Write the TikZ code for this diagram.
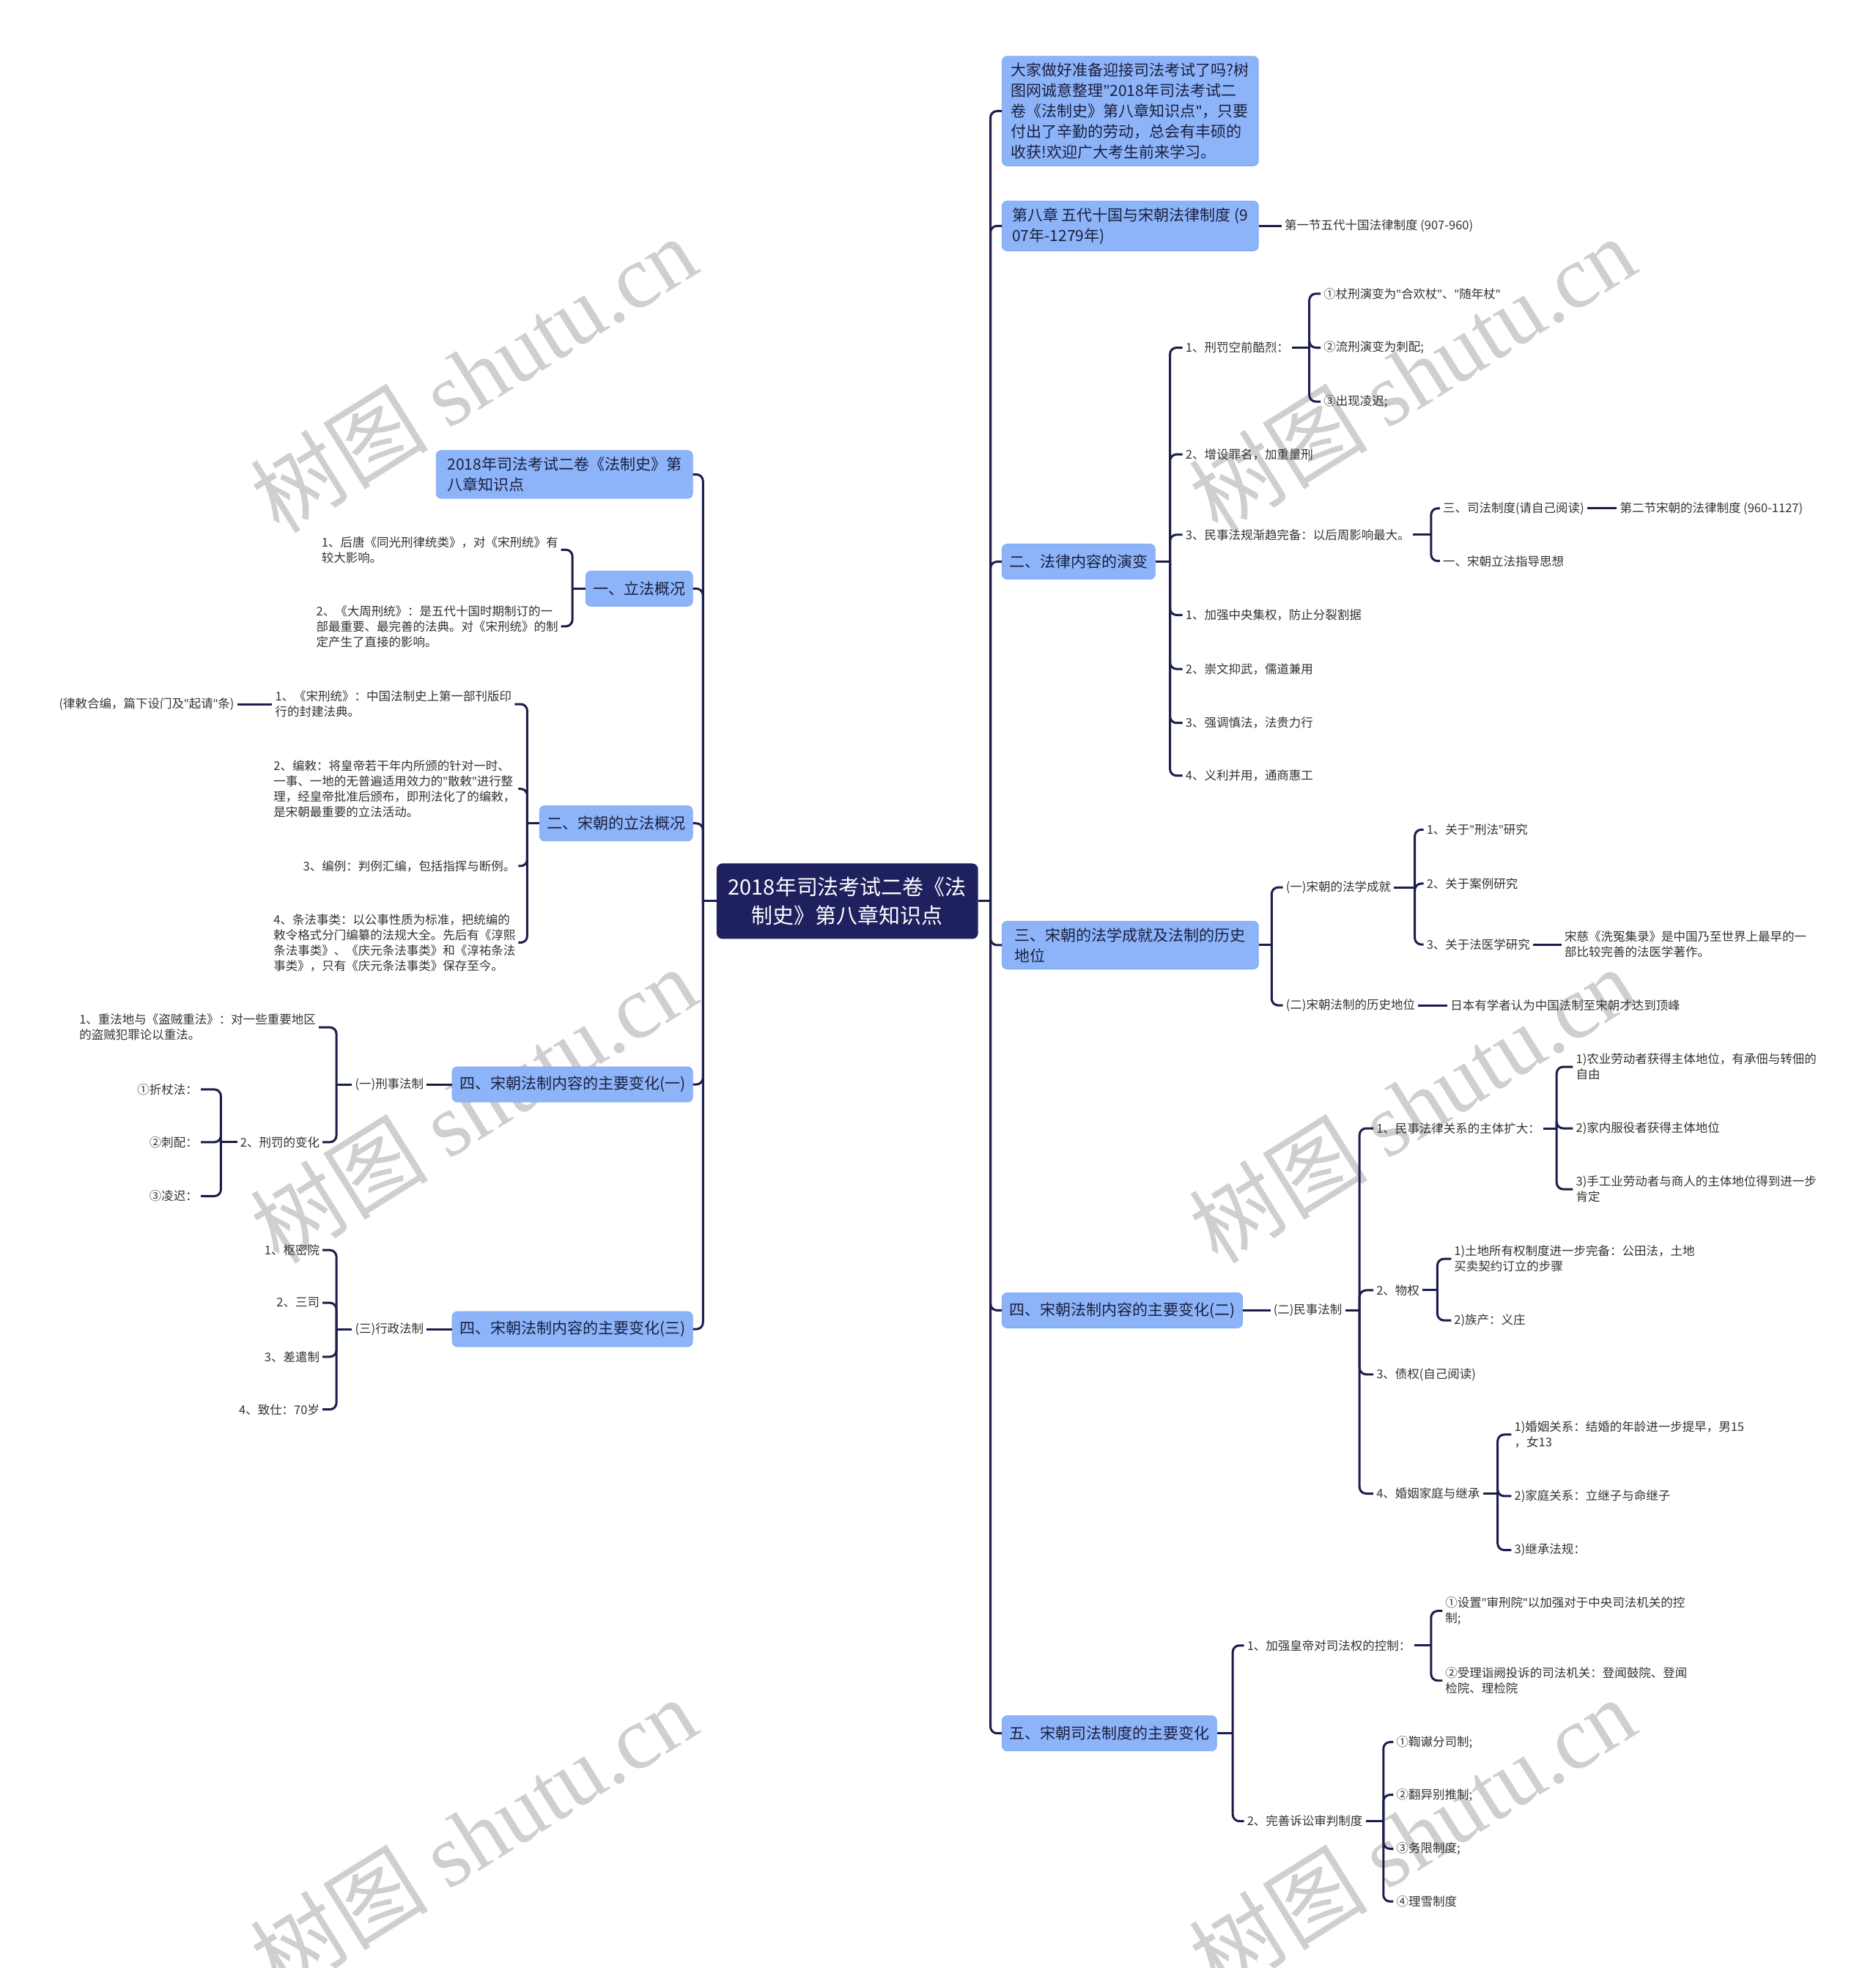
\documentclass[tikz,border=0pt]{standalone}
\usepackage{fontspec}
\setmainfont{Noto Sans CJK SC}
\newfontfamily\wmlat{Liberation Serif}
\newfontfamily\latq{Noto Sans}
\newcommand{\qq}{{\latq\symbol{34}}}
\definecolor{boxblue}{HTML}{8DB4F8}
\definecolor{boxedge}{HTML}{7FA8F0}
\definecolor{boxtext}{HTML}{1A1F40}
\definecolor{leaftext}{HTML}{333333}
\definecolor{linecol}{HTML}{1B1E4B}
\definecolor{rootblue}{HTML}{1F205E}
\tikzset{
  box/.style={fill=boxblue, draw=boxedge, line width=0.8pt, rounded corners=7pt, text=boxtext,
    font=\fontsize{21}{28}\selectfont, inner xsep=10pt, inner ysep=9pt, minimum height=48pt, align=left},
  widebox/.style={box, minimum width=350pt},
  leaf/.style={text=leaftext, font=\fontsize{16.5}{21}\selectfont, inner xsep=4pt, inner ysep=2pt, align=left},
  conn/.style={draw=linecol, line width=3pt, rounded corners=9pt},
  root/.style={fill=rootblue, rounded corners=8pt, text=white, font=\fontsize{29}{39}\selectfont,
    align=center, minimum width=357pt, minimum height=103pt, inner sep=8pt},
  wm/.style={text=black!19, font=\fontsize{122}{122}\selectfont, rotate=32, inner sep=0pt}
}
\begin{document}
\begin{tikzpicture}[x=1.7135pt,y=-1.7135pt]
\useasboundingbox[fill=white] (0,0) rectangle (1494,1568);
% watermarks
\node[wm] (w1) at (377,298) {树图 {\wmlat shutu.cn}};
\node[wm] (w2) at (1125,298) {树图 {\wmlat shutu.cn}};
\node[wm] (w3) at (377,880) {树图 {\wmlat shutu.cn}};
\node[wm] (w4) at (1125,880) {树图 {\wmlat shutu.cn}};
\node[wm] (w5) at (377,1462) {树图 {\wmlat shutu.cn}};
\node[wm] (w6) at (1125,1462) {树图 {\wmlat shutu.cn}};

% root
\node[root] (root) at (675,718) {2018年司法考试二卷《法\\制史》第八章知识点};
\coordinate (rt) at (789,0);
\coordinate (lt) at (560,0);

% ---------------- right side ----------------
\node[widebox, anchor=west] (R0) at (798,88.5) {大家做好准备迎接司法考试了吗?树\\图网诚意整理\qq 2018年司法考试二\\卷《法制史》第八章知识点\qq ，只要\\付出了辛勤的劳动，总会有丰硕的\\收获!欢迎广大考生前来学习。};
\node[widebox, anchor=west] (R1) at (798,180) {第八章 五代十国与宋朝法律制度 (9\\07年-1279年)};
\node[leaf, anchor=west] (R1c) at (1021,180) {第一节五代十国法律制度 (907-960)};

\node[box, anchor=west] (R2) at (798,447.5) {二、法律内容的演变};
\node[leaf, anchor=west] (a1) at (942,277) {1、刑罚空前酷烈：};
\node[leaf, anchor=west] (a1c1) at (1052,234) {①杖刑演变为\qq 合欢杖\qq 、\qq 随年杖\qq};
\node[leaf, anchor=west] (a1c2) at (1052,277) {②流刑演变为刺配;};
\node[leaf, anchor=west] (a1c3) at (1052,320) {③出现凌迟;};
\node[leaf, anchor=west] (a2) at (942,362) {2、增设罪名，加重量刑};
\node[leaf, anchor=west] (a3) at (942,426) {3、民事法规渐趋完备：以后周影响最大。};
\node[leaf, anchor=west] (a3c1) at (1147,405) {三、司法制度(请自己阅读)};
\node[leaf, anchor=west] (a3c1c) at (1288,405) {第二节宋朝的法律制度 (960-1127)};
\node[leaf, anchor=west] (a3c2) at (1147,447) {一、宋朝立法指导思想};
\node[leaf, anchor=west] (a4) at (942,490) {1、加强中央集权，防止分裂割据};
\node[leaf, anchor=west] (a5) at (942,533) {2、崇文抑武，儒道兼用};
\node[leaf, anchor=west] (a6) at (942,576) {3、强调慎法，法贵力行};
\node[leaf, anchor=west] (a7) at (942,618) {4、义利并用，通商惠工};

\node[widebox, anchor=west] (R3) at (798,753) {三、宋朝的法学成就及法制的历史\\地位};
\node[leaf, anchor=west] (b1) at (1022,707) {(一)宋朝的法学成就};
\node[leaf, anchor=west] (b1c1) at (1134,661) {1、关于\qq 刑法\qq 研究};
\node[leaf, anchor=west] (b1c2) at (1134,704) {2、关于案例研究};
\node[leaf, anchor=west] (b1c3) at (1134,752.5) {3、关于法医学研究};
\node[leaf, anchor=west] (b1c3c) at (1244,752.5) {宋慈《洗冤集录》是中国乃至世界上最早的一\\部比较完善的法医学著作。};
\node[leaf, anchor=west] (b2) at (1022,801) {(二)宋朝法制的历史地位};
\node[leaf, anchor=west] (b2c) at (1153,801) {日本有学者认为中国法制至宋朝才达到顶峰};

\node[box, anchor=west] (R4) at (798,1044) {四、宋朝法制内容的主要变化(二)};
\node[leaf, anchor=west] (R4c) at (1012,1044) {(二)民事法制};
\node[leaf, anchor=west] (c1) at (1094,899) {1、民事法律关系的主体扩大：};
\node[leaf, anchor=west] (c1k1) at (1253,850) {1)农业劳动者获得主体地位，有承佃与转佃的\\自由};
\node[leaf, anchor=west] (c1k2) at (1253,899) {2)家内服役者获得主体地位};
\node[leaf, anchor=west] (c1k3) at (1253,947.5) {3)手工业劳动者与商人的主体地位得到进一步\\肯定};
\node[leaf, anchor=west] (c2) at (1094,1028) {2、物权};
\node[leaf, anchor=west] (c2k1) at (1156,1003) {1)土地所有权制度进一步完备：公田法，土地\\买卖契约订立的步骤};
\node[leaf, anchor=west] (c2k2) at (1156,1052) {2)族产：义庄};
\node[leaf, anchor=west] (c3) at (1094,1095) {3、债权(自己阅读)};
\node[leaf, anchor=west] (c4) at (1094,1190) {4、婚姻家庭与继承};
\node[leaf, anchor=west] (c4k1) at (1204,1143) {1)婚姻关系：结婚的年龄进一步提早，男15\\，女13};
\node[leaf, anchor=west] (c4k2) at (1204,1192) {2)家庭关系：立继子与命继子};
\node[leaf, anchor=west] (c4k3) at (1204,1235) {3)继承法规：};

\node[box, anchor=west] (R5) at (798,1381) {五、宋朝司法制度的主要变化};
\node[leaf, anchor=west] (d1) at (991,1311) {1、加强皇帝对司法权的控制：};
\node[leaf, anchor=west] (d1k1) at (1149,1283.5) {①设置\qq 审刑院\qq 以加强对于中央司法机关的控\\制;};
\node[leaf, anchor=west] (d1k2) at (1149,1339) {②受理诣阙投诉的司法机关：登闻鼓院、登闻\\检院、理检院};
\node[leaf, anchor=west] (d2) at (991,1451) {2、完善诉讼审判制度};
\node[leaf, anchor=west] (d2k1) at (1110,1388) {①鞫谳分司制;};
\node[leaf, anchor=west] (d2k2) at (1110,1430) {②翻异别推制;};
\node[leaf, anchor=west] (d2k3) at (1110,1473) {③务限制度;};
\node[leaf, anchor=west] (d2k4) at (1110,1515) {④理雪制度};

% ---------------- left side ----------------
\node[widebox, anchor=east] (L0) at (552,378) {2018年司法考试二卷《法制史》第\\八章知识点};
\node[box, anchor=east] (L1) at (552,469) {一、立法概况};
\node[leaf, anchor=east] (g1) at (447,438) {1、后唐《同光刑律统类》，对《宋刑统》有\\较大影响。};
\node[leaf, anchor=east] (g2) at (447,499) {2、《大周刑统》：是五代十国时期制订的一\\部最重要、最完善的法典。对《宋刑统》的制\\定产生了直接的影响。};

\node[box, anchor=east] (L2) at (552,656) {二、宋朝的立法概况};
\node[leaf, anchor=east] (e1) at (410,561) {1、《宋刑统》：中国法制史上第一部刊版印\\行的封建法典。};
\node[leaf, anchor=east] (e1c) at (189,561) {(律敕合编，篇下设门及\qq 起请\qq 条)};
\node[leaf, anchor=east] (e2) at (413,628.5) {2、编敕：将皇帝若干年内所颁的针对一时、\\一事、一地的无普遍适用效力的\qq 散敕\qq 进行整\\理，经皇帝批准后颁布，即刑法化了的编敕，\\是宋朝最重要的立法活动。};
\node[leaf, anchor=east] (e3) at (413,690) {3、编例：判例汇编，包括指挥与断例。};
\node[leaf, anchor=east] (e4) at (413,751) {4、条法事类：以公事性质为标准，把统编的\\敕令格式分门编纂的法规大全。先后有《淳熙\\条法事类》、《庆元条法事类》和《淳祐条法\\事类》，只有《庆元条法事类》保存至今。};

\node[box, anchor=east] (L3) at (552,864) {四、宋朝法制内容的主要变化(一)};
\node[leaf, anchor=east] (L3c) at (340,864) {(一)刑事法制};
\node[leaf, anchor=east] (f1) at (254,818.5) {1、重法地与《盗贼重法》：对一些重要地区\\的盗贼犯罪论以重法。};
\node[leaf, anchor=east] (f2) at (257,910) {2、刑罚的变化};
\node[leaf, anchor=east] (f2k1) at (160,868) {①折杖法：};
\node[leaf, anchor=east] (f2k2) at (160,910) {②刺配：};
\node[leaf, anchor=east] (f2k3) at (160,953) {③凌迟：};

\node[box, anchor=east] (L4) at (552,1059) {四、宋朝法制内容的主要变化(三)};
\node[leaf, anchor=east] (L4c) at (340,1059) {(三)行政法制};
\node[leaf, anchor=east] (h1) at (257,996) {1、枢密院};
\node[leaf, anchor=east] (h2) at (257,1038) {2、三司};
\node[leaf, anchor=east] (h3) at (257,1081) {3、差遣制};
\node[leaf, anchor=east] (h4) at (257,1123) {4、致仕：70岁};

% ---------------- buses ----------------
\coordinate (bR2) at (932,0);
\coordinate (ba1) at (1043,0);
\coordinate (ba3) at (1140,0);
\coordinate (bR3) at (1013,0);
\coordinate (bb1) at (1127,0);
\coordinate (bR4) at (1083,0);
\coordinate (bc1) at (1240,0);
\coordinate (bc2) at (1145,0);
\coordinate (bc4) at (1193,0);
\coordinate (bR5) at (982,0);
\coordinate (bd1) at (1140,0);
\coordinate (bd2) at (1102,0);
\coordinate (bL1) at (456,0);
\coordinate (bL2) at (420,0);
\coordinate (bL3) at (268,0);
\coordinate (bf2) at (176,0);
\coordinate (bL4) at (268,0);

% ---------------- connectors ----------------
\draw[conn] (root.east) -- (root.east -| rt);
\foreach \n in {R0,R1,R2,R3,R4,R5} \draw[conn] (root.east -| rt) |- (\n.west);
\draw[conn] (root.west) -- (root.west -| lt);
\foreach \n in {L0,L1,L2,L3,L4} \draw[conn] (root.west -| lt) |- (\n.east);

\draw[conn] (R1.east) -- (R1c.west);

\draw[conn] (R2.east) -- (R2.east -| bR2);
\foreach \n in {a1,a2,a3,a4,a5,a6,a7} \draw[conn] (R2.east -| bR2) |- (\n.west);
\draw[conn] (a1.east) -- (a1.east -| ba1);
\foreach \n in {a1c1,a1c2,a1c3} \draw[conn] (a1.east -| ba1) |- (\n.west);
\draw[conn] (a3.east) -- (a3.east -| ba3);
\foreach \n in {a3c1,a3c2} \draw[conn] (a3.east -| ba3) |- (\n.west);
\draw[conn] (a3c1.east) -- (a3c1c.west);

\draw[conn] (R3.east) -- (R3.east -| bR3);
\foreach \n in {b1,b2} \draw[conn] (R3.east -| bR3) |- (\n.west);
\draw[conn] (b1.east) -- (b1.east -| bb1);
\foreach \n in {b1c1,b1c2,b1c3} \draw[conn] (b1.east -| bb1) |- (\n.west);
\draw[conn] (b1c3.east) -- (b1c3c.west);
\draw[conn] (b2.east) -- (b2c.west);

\draw[conn] (R4.east) -- (R4c.west);
\draw[conn] (R4c.east) -- (R4c.east -| bR4);
\foreach \n in {c1,c2,c3,c4} \draw[conn] (R4c.east -| bR4) |- (\n.west);
\draw[conn] (c1.east) -- (c1.east -| bc1);
\foreach \n in {c1k1,c1k2,c1k3} \draw[conn] (c1.east -| bc1) |- (\n.west);
\draw[conn] (c2.east) -- (c2.east -| bc2);
\foreach \n in {c2k1,c2k2} \draw[conn] (c2.east -| bc2) |- (\n.west);
\draw[conn] (c4.east) -- (c4.east -| bc4);
\foreach \n in {c4k1,c4k2,c4k3} \draw[conn] (c4.east -| bc4) |- (\n.west);

\draw[conn] (R5.east) -- (R5.east -| bR5);
\foreach \n in {d1,d2} \draw[conn] (R5.east -| bR5) |- (\n.west);
\draw[conn] (d1.east) -- (d1.east -| bd1);
\foreach \n in {d1k1,d1k2} \draw[conn] (d1.east -| bd1) |- (\n.west);
\draw[conn] (d2.east) -- (d2.east -| bd2);
\foreach \n in {d2k1,d2k2,d2k3,d2k4} \draw[conn] (d2.east -| bd2) |- (\n.west);

\draw[conn] (L1.west) -- (L1.west -| bL1);
\foreach \n in {g1,g2} \draw[conn] (L1.west -| bL1) |- (\n.east);
\draw[conn] (L2.west) -- (L2.west -| bL2);
\foreach \n in {e1,e2,e3,e4} \draw[conn] (L2.west -| bL2) |- (\n.east);
\draw[conn] (e1.west) -- (e1c.east);

\draw[conn] (L3.west) -- (L3c.east);
\draw[conn] (L3c.west) -- (L3c.west -| bL3);
\foreach \n in {f1,f2} \draw[conn] (L3c.west -| bL3) |- (\n.east);
\draw[conn] (f2.west) -- (f2.west -| bf2);
\foreach \n in {f2k1,f2k2,f2k3} \draw[conn] (f2.west -| bf2) |- (\n.east);

\draw[conn] (L4.west) -- (L4c.east);
\draw[conn] (L4c.west) -- (L4c.west -| bL4);
\foreach \n in {h1,h2,h3,h4} \draw[conn] (L4c.west -| bL4) |- (\n.east);
\end{tikzpicture}
\end{document}
